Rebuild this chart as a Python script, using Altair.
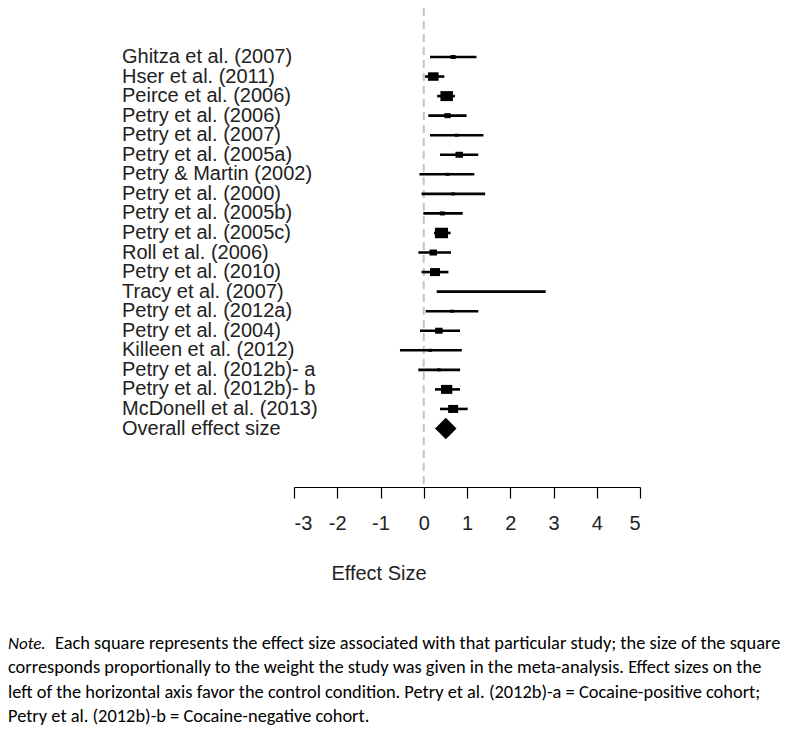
import altair as alt
import pandas as pd

studies = [
    "Ghitza et al. (2007)", "Hser et al. (2011)", "Peirce et al. (2006)",
    "Petry et al. (2006)", "Petry et al. (2007)", "Petry et al. (2005a)",
    "Petry & Martin (2002)", "Petry et al. (2000)", "Petry et al. (2005b)",
    "Petry et al. (2005c)", "Roll et al. (2006)", "Petry et al. (2010)",
    "Tracy et al. (2007)", "Petry et al. (2012a)", "Petry et al. (2004)",
    "Killeen et al. (2012)", "Petry et al. (2012b)- a", "Petry et al. (2012b)- b",
    "McDonell et al. (2013)",
]
effect = [0.68, 0.22, 0.53, 0.55, 0.76, 0.82, 0.55, 0.68, 0.43, 0.41,
          0.22, 0.26, 1.56, 0.66, 0.35, 0.15, 0.35, 0.53, 0.68]
lower = [0.145, 0.03, 0.31, 0.105, 0.145, 0.376, -0.10, -0.05, -0.01, 0.237,
         -0.125, -0.05, 0.30, 0.045, -0.087, -0.55, -0.125, 0.26, 0.376]
upper = [1.22, 0.475, 0.72, 0.99, 1.38, 1.26, 1.17, 1.42, 0.90, 0.62,
         0.63, 0.57, 2.82, 1.26, 0.84, 0.88, 0.84, 0.84, 1.015]
weight = [1.6, 7.2, 10.0, 2.5, 0.9, 3.6, 0.9, 0.9, 1.6, 11.0,
          3.6, 6.4, 0.2, 0.9, 3.6, 0.9, 0.9, 8.1, 6.4]

overall_label = "Overall effect size"
overall_effect = 0.51

ticks = [-3, -2, -1, 0, 1, 2, 3, 4, 5]
axis_title = "Effect Size"
note_italic = "Note."
note_lines = [
    "Each square represents the effect size associated with that particular study; the size of the square",
    "corresponds proportionally to the weight the study was given in the meta-analysis. Effect sizes on the",
    "left of the horizontal axis favor the control condition. Petry et al. (2012b)-a = Cocaine-positive cohort;",
    "Petry et al. (2012b)-b = Cocaine-negative cohort.",
]

order = studies + [overall_label]
df = pd.DataFrame({"study": studies, "effect": effect, "lower": lower,
                   "upper": upper, "weight": weight})
df_all = pd.DataFrame({"study": order})
df_overall = pd.DataFrame({"study": [overall_label], "effect": [overall_effect]})

xscale = alt.Scale(domain=[-3, 5], range=[286, 632], nice=False, zero=False)
yscale = alt.Scale(type="point", domain=order, range=[49, 420.5], padding=0)
FONT = "Liberation Sans"
NOTE_FONT = "Carlito, Lato, Liberation Sans Narrow, Roboto"

zero_line = alt.Chart(pd.DataFrame({"v": [0]})).mark_rule(
    color="#c4c4c4", strokeWidth=2, strokeDash=[8, 5]
).encode(
    x=alt.X("v:Q", scale=xscale,
            axis=alt.Axis(values=ticks, grid=False, title=None,
                          labelExpr="datum.value + ''",
                          domainColor="#000", tickColor="#000", tickSize=11,
                          labelFont=FONT, labelFontSize=20, labelColor="#222",
                          labelPadding=15, domainWidth=1.2, tickWidth=1.2)),
    y=alt.value(0), y2=alt.value(479),
)

ci = alt.Chart(df).mark_rule(color="#000", strokeWidth=2.6).encode(
    x=alt.X("lower:Q", scale=xscale), x2="upper:Q",
    y=alt.Y("study:N", scale=yscale, axis=None),
)

squares = alt.Chart(df).mark_point(
    filled=True, color="#000", opacity=1,
    shape="M-1.25,-1L1.25,-1L1.25,1L-1.25,1Z"
).encode(
    x=alt.X("effect:Q", scale=xscale),
    y=alt.Y("study:N", scale=yscale, axis=None),
    size=alt.Size("weight:Q", scale=alt.Scale(domain=[0, 10], range=[0, 100]),
                  legend=None),
)

diamond = alt.Chart(df_overall).mark_point(
    filled=True, color="#000", opacity=1, shape="diamond", size=460
).encode(
    x=alt.X("effect:Q", scale=xscale),
    y=alt.Y("study:N", scale=yscale, axis=None),
)

labels = alt.Chart(df_all).mark_text(
    align="left", baseline="middle", font=FONT, fontSize=20, color="#222"
).encode(
    x=alt.value(114),
    y=alt.Y("study:N", scale=yscale, axis=None),
    text="study:N",
)

title_txt = alt.Chart(pd.DataFrame({"t": [axis_title]})).mark_text(
    align="center", baseline="middle", font=FONT, fontSize=20, color="#222"
).encode(x=alt.value(371), y=alt.value(566), text="t:N")

note_df = pd.DataFrame({"t": note_lines, "line": [0, 1, 2, 3]})
note_txt = alt.Chart(note_df).transform_calculate(
    ypos="641 + datum.line * 24.3",
    xpos="datum.line == 0 ? 47 : 0",
).mark_text(
    align="left", baseline="alphabetic", font=NOTE_FONT,
    fontSize=18.4, color="#000"
).encode(
    x=alt.X("xpos:Q", scale=None),
    y=alt.Y("ypos:Q", scale=None),
    text="t:N",
)

note_it = alt.Chart(pd.DataFrame({"t": [note_italic]})).mark_text(
    align="left", baseline="alphabetic", font=NOTE_FONT,
    fontSize=17, fontStyle="italic", color="#000"
).encode(x=alt.value(0), y=alt.value(641), text="t:N")

chart = alt.layer(
    zero_line, ci, squares, diamond, labels, title_txt, note_txt, note_it
).properties(
    width=784, height=479,
    autosize=alt.AutoSizeParams(type="none"),
    padding={"left": 0, "top": 0, "right": 0, "bottom": 239},
).configure_view(strokeWidth=0)

chart.save("out.html", embed_options={"renderer": "svg", "actions": False})
